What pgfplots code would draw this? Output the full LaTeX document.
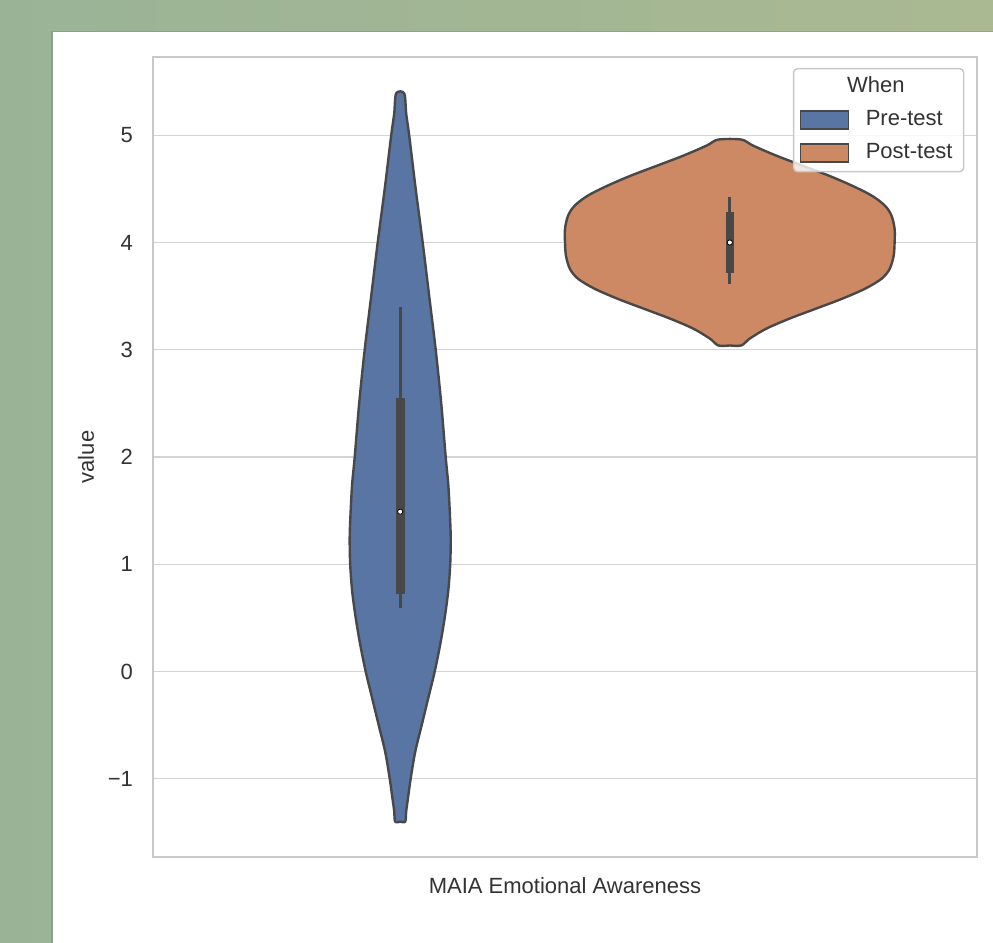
\documentclass[border=0pt]{standalone}
\usepackage{pgfplots}
\pgfplotsset{compat=1.18}
\usepackage{fontspec}
\setmainfont{Liberation Sans}
\definecolor{txt}{RGB}{51,51,51}
\definecolor{gridc}{RGB}{212,212,212}
\definecolor{framec}{RGB}{200,200,200}
\definecolor{preblue}{RGB}{89,117,164}
\definecolor{postorange}{RGB}{204,137,99}
\definecolor{edgec}{RGB}{72,72,72}
\definecolor{bgl}{RGB}{154,179,150}
\definecolor{bgr}{RGB}{170,185,146}
\newcommand{\chartfont}{\fontsize{11}{13.2}\selectfont}
\begin{document}
\begin{tikzpicture}
\useasboundingbox (-76.5pt,-43pt) rectangle (420pt,428.5pt);
\shade[left color=bgl, right color=bgr] (-76.5pt,-43pt) rectangle (420pt,428.5pt);
\fill[black, opacity=0.10] (-51pt,-43pt) rectangle (420pt,413.2pt);
\fill[white] (-50pt,-43pt) rectangle (420pt,412.5pt);
\begin{axis}[
  at={(0pt,0pt)}, anchor=south west,
  scale only axis, width=412pt, height=400pt,
  xmin=-0.5, xmax=0.5, ymin=-1.73, ymax=5.73,
  xtick={0}, xticklabels={MAIA Emotional Awareness},
  ytick={-1,0,1,2,3,4,5}, yticklabels={−1,0,1,2,3,4,5},
  major tick length=0pt,
  ymajorgrids, grid style={gridc, line width=0.6pt},
  axis line style={framec, line width=0.7pt},
  tick label style={font=\chartfont, text=txt},
  yticklabel style={xshift=-6.5pt},
  xticklabel style={yshift=-6.8pt},
  ylabel={value},
  ylabel style={at={(axis description cs:-0.0813,0.5)}, anchor=center, font=\chartfont, text=txt},
  legend cell align=left,
  legend style={at={(axis description cs:1,1)}, anchor=north east,
    xshift=-6.35pt, yshift=-5.5pt, draw=framec, line width=0.7pt,
    rounded corners=2pt, fill=white, fill opacity=0.8, draw opacity=1,
    text opacity=1, font=\chartfont, text=txt, inner xsep=2.5pt, inner ysep=1.5pt,
    row sep=1.0pt, nodes={inner sep=3pt, text height=7.5pt, text depth=2pt}},
  violin/.style={draw=edgec, line width=1.2pt, smooth, tension=0.5,
    legend image code/.code={\draw[##1, sharp corners, fill opacity=1, draw opacity=1, line width=0.9pt] (1pt,-4.5pt) rectangle (25pt,4.5pt); \path (30pt,0pt);}},
]
\addlegendimage{empty legend}
\addlegendentry{\hspace*{-9.3pt}When}

% Pre-test violin
\addplot[violin, fill=preblue] coordinates {
(-0.2000,-1.40) (-0.1939,-1.40) (-0.1927,-1.30) (-0.1909,-1.20) (-0.1873,-1.00)
(-0.1818,-0.75) (-0.1739,-0.50) (-0.1660,-0.25) (-0.1581,0.00) (-0.1515,0.25)
(-0.1460,0.50) (-0.1417,0.75) (-0.1393,1.00) (-0.1387,1.25) (-0.1399,1.50)
(-0.1417,1.75) (-0.1448,2.00) (-0.1502,2.50) (-0.1569,3.00) (-0.1648,3.50)
(-0.1727,4.00) (-0.1812,4.50) (-0.1891,5.00) (-0.1927,5.20) (-0.1951,5.39)
(-0.2049,5.39) (-0.2073,5.20) (-0.2109,5.00) (-0.2188,4.50) (-0.2273,4.00)
(-0.2352,3.50) (-0.2431,3.00) (-0.2498,2.50) (-0.2552,2.00) (-0.2583,1.75)
(-0.2601,1.50) (-0.2613,1.25) (-0.2607,1.00) (-0.2583,0.75) (-0.2540,0.50)
(-0.2485,0.25) (-0.2419,0.00) (-0.2340,-0.25) (-0.2261,-0.50) (-0.2182,-0.75)
(-0.2127,-1.00) (-0.2091,-1.20) (-0.2073,-1.30) (-0.2061,-1.40) (-0.2000,-1.40)
};
\addlegendentry{Pre-test}
\addplot[edgec, line width=1.6pt, forget plot] coordinates {(-0.2,0.59) (-0.2,3.40)};
\addplot[edgec, line width=4.4pt, forget plot] coordinates {(-0.2,0.72) (-0.2,2.55)};
\addplot[only marks, mark=*, mark size=1.3pt, mark options={fill=white, draw=none}, forget plot] coordinates {(-0.2,1.49)};

% Post-test violin
\addplot[violin, fill=postorange] coordinates {
(0.2000,3.040) (0.2140,3.040) (0.2240,3.103) (0.2441,3.196) (0.2720,3.289)
(0.3041,3.382) (0.3361,3.475) (0.3641,3.569) (0.3842,3.662) (0.3941,3.755)
(0.3989,3.879) (0.4000,4.003) (0.4000,4.128) (0.3962,4.252) (0.3881,4.345)
(0.3721,4.438) (0.3481,4.531) (0.3200,4.624) (0.2881,4.717) (0.2561,4.811)
(0.2281,4.904) (0.2140,4.960)
(0.1860,4.960) (0.1719,4.904) (0.1439,4.811) (0.1119,4.717) (0.0800,4.624)
(0.0519,4.531) (0.0279,4.438) (0.0119,4.345) (0.0038,4.252) (0.0000,4.128)
(0.0000,4.003) (0.0011,3.879) (0.0059,3.755) (0.0158,3.662) (0.0359,3.569)
(0.0639,3.475) (0.0959,3.382) (0.1280,3.289) (0.1559,3.196) (0.1760,3.103)
(0.1860,3.040) (0.2000,3.040)
};
\addlegendentry{Post-test}
\addplot[edgec, line width=1.6pt, forget plot] coordinates {(0.2,3.61) (0.2,4.42)};
\addplot[edgec, line width=4.2pt, forget plot] coordinates {(0.2,3.72) (0.2,4.28)};
\addplot[only marks, mark=*, mark size=1.3pt, mark options={fill=white, draw=none}, forget plot] coordinates {(0.2,4.00)};
\end{axis}
\end{tikzpicture}
\end{document}
